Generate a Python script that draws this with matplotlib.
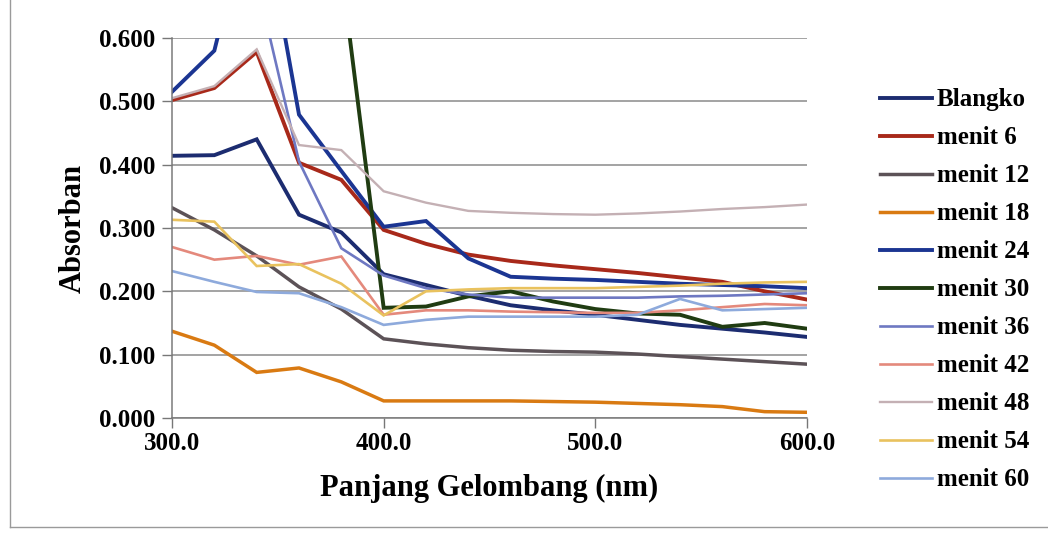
import matplotlib

matplotlib.use("Agg")
import matplotlib.pyplot as plt  # noqa: E402
from matplotlib.lines import Line2D  # noqa: E402

plt.rcParams["font.family"] = ["Liberation Serif", "DejaVu Serif"]
plt.rcParams["font.weight"] = "bold"

# Wavelength grid (nm), every 20 nm from 300 to 600
wavelength = [300, 320, 340, 360, 380, 400, 420, 440, 460, 480, 500,
              520, 540, 560, 580, 600]

series_names = ["Blangko", "menit 6", "menit 12", "menit 18", "menit 24",
                "menit 30", "menit 36", "menit 42", "menit 48", "menit 54",
                "menit 60"]

blangko = [0.414, 0.415, 0.440, 0.321, 0.293, 0.227, 0.210, 0.193, 0.178,
           0.170, 0.163, 0.155, 0.147, 0.141, 0.135, 0.128]
menit_6 = [0.502, 0.521, 0.578, 0.403, 0.376, 0.297, 0.275, 0.258, 0.248,
           0.241, 0.235, 0.229, 0.222, 0.215, 0.200, 0.187]
menit_12 = [0.332, 0.297, 0.256, 0.207, 0.172, 0.125, 0.117, 0.111, 0.107,
            0.105, 0.104, 0.101, 0.097, 0.093, 0.089, 0.085]
menit_18 = [0.137, 0.115, 0.072, 0.079, 0.057, 0.027, 0.027, 0.027, 0.027,
            0.026, 0.025, 0.023, 0.021, 0.018, 0.010, 0.009]
menit_24 = [0.515, 0.580, 0.850, 0.479, 0.390, 0.302, 0.311, 0.252, 0.223,
            0.220, 0.218, 0.215, 0.212, 0.210, 0.208, 0.205]
menit_30 = [1.000, 1.000, 1.000, 1.000, 0.707, 0.174, 0.176, 0.192, 0.200,
            0.184, 0.172, 0.165, 0.163, 0.144, 0.150, 0.141]
menit_36 = [0.900, 0.800, 0.690, 0.405, 0.268, 0.225, 0.205, 0.195, 0.190,
            0.190, 0.190, 0.190, 0.192, 0.193, 0.195, 0.197]
menit_42 = [0.270, 0.250, 0.256, 0.242, 0.255, 0.163, 0.170, 0.170, 0.168,
            0.167, 0.166, 0.166, 0.170, 0.175, 0.180, 0.178]
menit_48 = [0.505, 0.524, 0.582, 0.431, 0.423, 0.358, 0.340, 0.327, 0.324,
            0.322, 0.321, 0.323, 0.326, 0.330, 0.333, 0.337]
menit_54 = [0.313, 0.310, 0.240, 0.243, 0.212, 0.162, 0.200, 0.203, 0.205,
            0.205, 0.205, 0.207, 0.209, 0.212, 0.214, 0.215]
menit_60 = [0.232, 0.215, 0.199, 0.197, 0.175, 0.147, 0.155, 0.160, 0.160,
            0.160, 0.160, 0.163, 0.188, 0.170, 0.172, 0.174]

all_series = [blangko, menit_6, menit_12, menit_18, menit_24, menit_30,
              menit_36, menit_42, menit_48, menit_54, menit_60]

colors = ["#1c2c70", "#a8291a", "#5c5257", "#d97a12", "#1b3592", "#203c12",
          "#6e78c2", "#e4897c", "#c4b0b4", "#e9c25e", "#8eaadc"]
widths = [2.8, 2.8, 2.5, 2.5, 2.8, 2.8, 1.9, 1.9, 1.7, 1.9, 1.9]

y_ticks = [0.0, 0.1, 0.2, 0.3, 0.4, 0.5, 0.6]
x_ticks = [300, 400, 500, 600]

fig = plt.figure(figsize=(10.48, 5.33), dpi=100)
ax = fig.add_axes([172 / 1048, 1 - 418 / 533, 635 / 1048, 380 / 533])

for name, vals, c, lw in zip(series_names, all_series, colors, widths):
    ax.plot(wavelength, vals, color=c, lw=lw, label=name,
            solid_joinstyle="miter")

ax.set_xlim(300, 600)
ax.set_ylim(0, 0.6)
ax.set_yticks(y_ticks)
ax.set_yticklabels([f"{v:.3f}" for v in y_ticks])
ax.set_xticks(x_ticks)
ax.set_xticklabels([f"{v:.1f}" for v in x_ticks])
ax.tick_params(axis="both", labelsize=18, color="#777777", length=7,
               width=1)
ax.tick_params(axis="y", pad=5)
ax.tick_params(axis="x", pad=3)
ax.grid(axis="y", color="#8a8a8a", lw=1.1)
ax.set_axisbelow(True)
for side in ("top", "right"):
    ax.spines[side].set_visible(False)
for side in ("left", "bottom"):
    ax.spines[side].set_color("#7a7a7a")
    ax.spines[side].set_linewidth(1.1)

ax.set_xlabel("Panjang Gelombang (nm)", fontsize=22, fontweight="bold",
              labelpad=14)
ax.set_ylabel("Absorban", fontsize=22, fontweight="bold", labelpad=8)

fig.legend(loc="upper left", bbox_to_anchor=(857 / 1048, 1 - 66 / 533),
           frameon=False, fontsize=18, handlelength=2.1, handletextpad=0.2,
           labelspacing=0.6)

# chart-area border (left and bottom edges visible in the scan)
fig.add_artist(Line2D([10 / 1048, 10 / 1048], [6 / 533, 1.0],
                      transform=fig.transFigure, color="#9a9a9a", lw=1))
fig.add_artist(Line2D([10 / 1048, 1.0], [6 / 533, 6 / 533],
                      transform=fig.transFigure, color="#9a9a9a", lw=1))

fig.savefig("out.png", dpi=100)
